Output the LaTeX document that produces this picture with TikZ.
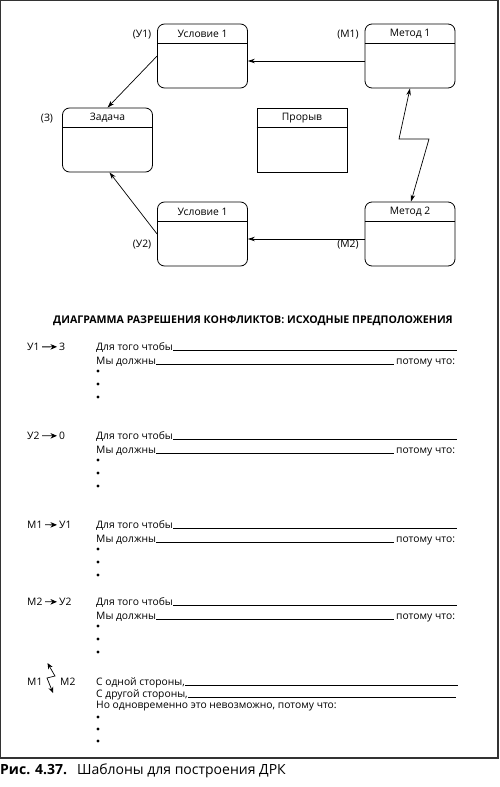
\documentclass[tikz,border=0pt]{standalone}
\usepackage{fontspec}
\setmainfont{Open Sans}
\usetikzlibrary{arrows.meta}
\tikzset{
  x=1pt,y=-1pt,
  every node/.style={font=\fontsize{10.3}{12}\selectfont,inner sep=0pt},
  rbox/.style={draw,line width=0.8pt,rounded corners=7pt,minimum width=90pt,minimum height=64pt},
  sbox/.style={draw,line width=0.8pt,minimum width=90pt,minimum height=64pt},
  conn/.style={line width=0.7pt,-{Stealth[length=7pt,width=4.5pt]}},
  biconn/.style={line width=0.7pt,{Stealth[length=7pt,width=4.5pt]}-{Stealth[length=7pt,width=4.5pt]}},
  smallarr/.style={line width=0.8pt,-{Stealth[length=6.5pt,width=5.5pt,inset=2pt]}},
  tinybi/.style={line width=0.7pt,{Stealth[length=6pt,width=5pt]}-{Stealth[length=6pt,width=5pt]}},
  uline/.style={line width=0.5pt},
  txt/.style={anchor=base west},
  bul/.style={circle,fill,inner sep=0pt,minimum size=3.3pt},
}
\begin{document}
\begin{tikzpicture}
\useasboundingbox (0,0) rectangle (500,787);
\draw[line width=1.2pt,black!80] (0.6,0.6) rectangle (498,758);

% boxes
\node[rbox] (u1) at (202.5,56) {};
\node[rbox] (m1) at (410,56) {};
\node[rbox] (z) at (107.5,140) {};
\node[sbox] (p) at (302,140) {};
\node[rbox] (u2) at (202.5,234) {};
\node[rbox] (m2) at (410,234) {};
\foreach \b/\t in {u1/Условие 1,m1/Метод 1,z/Задача,p/Прорыв,u2/Условие 1,m2/Метод 2}{
  \draw[line width=0.8pt] ([yshift=-20pt]\b.north west) -- ([yshift=-20pt]\b.north east);
  \node (\b t) at ([yshift=-10.5pt]\b.north) {\t};
}
\node (lu1) at (142,35) {(У1)};
\node (lm1) at (348,35) {(М1)};
\node (lz) at (47,119) {(З)};
\node (lu2) at (142,245) {(У2)};
\node (lm2) at (348,245) {(М2)};

\draw[conn] ([yshift=-5pt]m1.west) -- ([yshift=-5pt]u1.east);
\draw[conn] (u1.west) -- (z.north);
\draw[conn] (u2.west) -- ([xshift=2pt]z.south);
\draw[conn] ([yshift=-5pt]m2.west) -- ([yshift=-5pt]u2.east);
\coordinate (zz1) at (399,139);
\coordinate (zz2) at (429,139);
\draw[biconn] (m1.south) -- (zz1) -- (zz2) -- ([xshift=1pt]m2.north);

% heading
\node[font=\fontsize{10.6}{12}\selectfont\bfseries] (head) at (253,321) {ДИАГРАММА РАЗРЕШЕНИЯ КОНФЛИКТОВ: ИСХОДНЫЕ ПРЕДПОЛОЖЕНИЯ};

% sections
\foreach \i/\y/\la/\lb in {1/347/У1/З,2/436/У2/0,3/525/М1/У1,4/602/М2/У2}{
  \node[txt] (sa\i) at (27,\y+3.5) {\la};
  \node[txt] (sb\i) at (59,\y+3.5) {\lb};
  \draw[smallarr] ([xshift=2.5pt]sa\i.east) -- ([xshift=-2pt]sb\i.west);
  \node[txt] (la\i) at (96,\y+3.5) {Для того чтобы};
  \draw[uline] (la\i.base east) -- (457,\y+3.5);
  \node[txt] (lb\i) at (96,\y+17.5) {Мы должны};
  \node[txt] (lc\i) at (396,\y+17.5) {потому что:};
  \draw[uline] (lb\i.base east) -- ([xshift=-2pt]lc\i.base west);
  \node[bul] (ba\i) at (98,\y+24) {};
  \node[bul] (bb\i) at (98,\y+37) {};
  \node[bul] (bc\i) at (98,\y+50) {};
}

% section 5
\node[txt] (s5a) at (27,685.5) {М1};
\node[txt] (s5b) at (60,685.5) {М2};
\coordinate (t1) at (55,676);
\coordinate (t2) at (47,678);
\draw[tinybi] (47.5,663) -- (t1) -- (t2) -- (53,693);
\node[txt] (c1) at (96,685.5) {С одной стороны,};
\draw[uline] (c1.base east) -- (458,685.5);
\node[txt] (c2) at (96,697.5) {С другой стороны,};
\draw[uline] (c2.base east) -- (456,697.5);
\node[txt] (c3) at (96,708.5) {Но одновременно это невозможно, потому что:};
\node[bul] (b5a) at (98,717) {};
\node[bul] (b5b) at (98,729) {};
\node[bul] (b5c) at (98,741) {};

% caption
\node[txt,font=\fontsize{14}{16}\selectfont] (cap) at (0,774.5) {\textbf{Рис. 4.37.}\hspace{10pt}Шаблоны для построения ДРК};
\end{tikzpicture}
\end{document}
